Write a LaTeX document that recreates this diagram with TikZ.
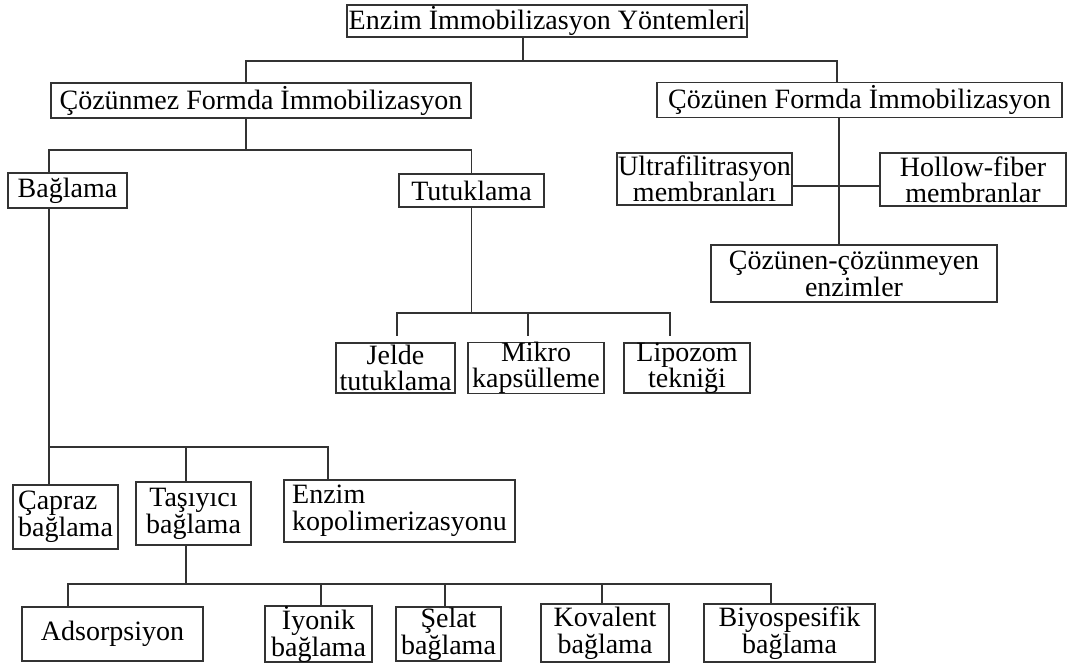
\documentclass[tikz,border=0pt]{standalone}
\usepackage{fontspec}
\setmainfont{Liberation Serif}
\tikzset{
  box/.style={draw=black!80, line width=1.6pt, inner sep=0pt, align=center,
    font=\fontsize{28}{27}\selectfont},
  tight/.style={font=\fontsize{28}{26}\selectfont},
  link/.style={draw=black!80, line width=1.6pt},
}
\begin{document}
\begin{tikzpicture}[x=1pt,y=-1pt]
  \useasboundingbox (0,0) rectangle (1068,666);
  % levels one and two
  \node[box, minimum width=400pt, minimum height=32pt] (root) at (547,21) {Enzim İmmobilizasyon Yöntemleri};
  \node[box, minimum width=420pt, minimum height=35pt] (insol) at (261,100.5) {Çözünmez Formda İmmobilizasyon};
  \node[box, minimum width=405pt, minimum height=35pt] (sol) at (859.5,100) {Çözünen Formda İmmobilizasyon};
  \node[box, minimum width=119pt, minimum height=35pt] (bagla) at (67.5,190.5) {Bağlama};
  \node[box, minimum width=145pt, minimum height=33pt] (tutuk) at (471.5,190.5) {Tutuklama};
  % soluble side
  \node[box, tight, minimum width=175pt, minimum height=52pt] (ultra) at (704.5,179) {Ultrafilitrasyon\\membranları};
  \node[box, tight, minimum width=186pt, minimum height=53pt] (hollow) at (973,179.5) {Hollow-fiber\\membranlar};
  \node[box, minimum width=286pt, minimum height=57pt] (cozcoz) at (854,273.5) {Çözünen-çözünmeyen\\enzimler};
  % entrapment
  \node[box, tight, minimum width=119pt, minimum height=50pt] (jelde) at (395.5,368) {Jelde\\tutuklama};
  \node[box, tight, minimum width=136pt, minimum height=50pt] (mikro) at (536,368) {Mikro\\kapsülleme};
  \node[box, tight, minimum width=126pt, minimum height=50pt] (lipo) at (687,368) {Lipozom\\tekniği};
  % binding
  \node[box, align=left, minimum width=105pt, minimum height=64pt] (capraz) at (65.5,517) {Çapraz\\bağlama};
  \node[box, minimum width=115pt, minimum height=63pt] (tasiyici) at (193.5,513.5) {Taşıyıcı\\bağlama};
  \node[box, align=left, minimum width=231pt, minimum height=62pt] (kopol) at (399.5,511) {Enzim\\kopolimerizasyonu};
  % carrier binding
  \node[box, minimum width=181pt, minimum height=54pt] (adsorp) at (112.5,634) {Adsorpsiyon};
  \node[box, minimum width=107pt, minimum height=54pt] (iyonik) at (318.5,634) {İyonik\\bağlama};
  \node[box, minimum width=105pt, minimum height=54pt] (selat) at (448.5,634) {Şelat\\bağlama};
  \node[box, minimum width=128pt, minimum height=58pt] (kovalent) at (605,633) {Kovalent\\bağlama};
  \node[box, minimum width=171pt, minimum height=58pt] (biyo) at (789.5,633) {Biyospesifik\\bağlama};

  \draw[link] ([xshift=-24pt]root.south) -- ++(0,23) -| ([xshift=-15pt]insol.north);
  \draw[link] ([xshift=-24pt]root.south) -- ++(0,23) -| ([xshift=-22.5pt]sol.north);
  \draw[link] ([xshift=-15pt]insol.south) -- ++(0,31) -| ([xshift=-18.5pt]bagla.north);
  \draw[link] ([xshift=-15pt]insol.south) -- ++(0,31) -| (tutuk.north);
  \draw[link] ([xshift=-20.5pt]sol.south) -- ([xshift=-15pt]cozcoz.north);
  \draw[link] ([yshift=-7pt]ultra.east) -- ([yshift=-6.5pt]hollow.west);
  \draw[link, shorten >=6pt] (tutuk.south) -- ++(0,105) -| ([xshift=1.5pt]jelde.north);
  \draw[link, shorten >=6pt] (tutuk.south) -- ++(0,105) -| ([xshift=-8pt]mikro.north);
  \draw[link, shorten >=6pt] (tutuk.south) -- ++(0,105) -| ([xshift=-17pt]lipo.north);
  \draw[link] ([xshift=-18.5pt]bagla.south) -- ++(0,238) -| ([xshift=-16.5pt]capraz.north);
  \draw[link] ([xshift=-18.5pt]bagla.south) -- ++(0,238) -| ([xshift=-7.5pt]tasiyici.north);
  \draw[link] ([xshift=-18.5pt]bagla.south) -- ++(0,238) -| ([xshift=-71.5pt]kopol.north);
  \draw[link] ([xshift=-7.5pt]tasiyici.south) -- ++(0,38) -| ([xshift=-44.5pt]adsorp.north);
  \draw[link] ([xshift=-7.5pt]tasiyici.south) -- ++(0,38) -| ([xshift=2.5pt]iyonik.north);
  \draw[link] ([xshift=-7.5pt]tasiyici.south) -- ++(0,38) -| ([xshift=-3.5pt]selat.north);
  \draw[link] ([xshift=-7.5pt]tasiyici.south) -- ++(0,38) -| ([xshift=-3pt]kovalent.north);
  \draw[link] ([xshift=-7.5pt]tasiyici.south) -- ++(0,38) -| ([xshift=-18.5pt]biyo.north);
\end{tikzpicture}
\end{document}
